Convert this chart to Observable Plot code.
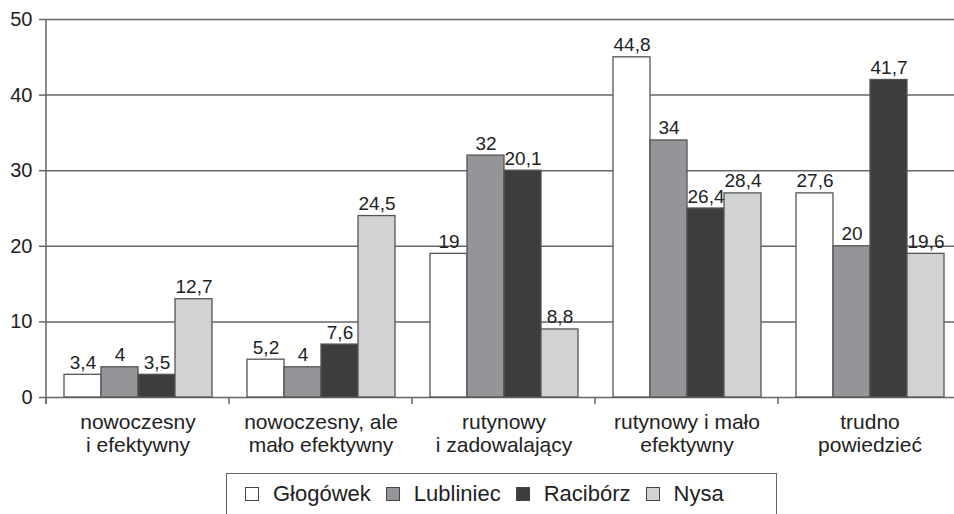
<!DOCTYPE html>
<html>
<head>
<meta charset="utf-8">
<script src="https://cdn.jsdelivr.net/npm/d3@7"></script>
<script src="https://cdn.jsdelivr.net/npm/@observablehq/plot@0.6"></script>
<style>
  body { margin: 0; background: #fff; font-family: "Liberation Sans", Arial, sans-serif; }
  #chart svg { display: block; overflow: visible; }
  #legend {
    box-sizing: border-box;
    margin-left: 226px; margin-top: 7px;
    width: 551px; height: 52px;
    border: 1.5px solid #666;
    display: flex; align-items: center; justify-content: flex-start;
    font-size: 22px; color: #222;
    padding-left: 18px;
    padding-bottom: 10px;
  }
  .item { display: flex; align-items: center; margin-right: 15px; }
  .sw { width: 14px; height: 14px; box-sizing: border-box; border: 1.3px solid #444; margin-right: 14px; }
</style>
</head>
<body>
<div id="chart"></div>
<div id="legend"></div>
<script>
const categories = [
  "nowoczesny\ni efektywny",
  "nowoczesny, ale\nmało efektywny",
  "rutynowy\ni zadowalający",
  "rutynowy i mało\nefektywny",
  "trudno\npowiedzieć"
];
const seriesNames = ["Głogówek", "Lubliniec", "Racibórz", "Nysa"];
// bar heights as drawn in the picture
const barsGlogowek  = [3, 5, 19, 45, 27];
const barsLubliniec = [4, 4, 32, 34, 20];
const barsRaciborz  = [3, 7, 30, 25, 42];
const barsNysa      = [13, 24, 9, 27, 19];
// value labels as printed
const labelsGlogowek  = ["3,4", "5,2", "19", "44,8", "27,6"];
const labelsLubliniec = ["4", "4", "32", "34", "20"];
const labelsRaciborz  = ["3,5", "7,6", "20,1", "26,4", "41,7"];
const labelsNysa      = ["12,7", "24,5", "8,8", "28,4", "19,6"];
const yTicks = [0, 10, 20, 30, 40, 50];
const seriesColors = ["#ffffff", "#939598", "#3d3d3d", "#d1d2d4"];

const barSets = [barsGlogowek, barsLubliniec, barsRaciborz, barsNysa];
const labelSets = [labelsGlogowek, labelsLubliniec, labelsRaciborz, labelsNysa];
const table = [];
categories.forEach((c, i) => {
  seriesNames.forEach((s, j) => {
    table.push({category: c, series: s, value: barSets[j][i], label: labelSets[j][i]});
  });
});

const plot = Plot.plot({
  width: 954,
  height: 466,
  marginLeft: 46,
  marginRight: 0,
  marginTop: 19,
  marginBottom: 69,
  style: {fontFamily: "'Liberation Sans', Arial, sans-serif", color: "#222", background: "#fff"},
  fx: {domain: categories, range: [46, 961], padding: 0, label: null},
  x: {domain: seriesNames, paddingInner: 0, paddingOuter: 0.44, axis: null},
  y: {domain: [0, 50], label: null},
  color: {domain: seriesNames, range: seriesColors},
  marks: [
    Plot.ruleY(yTicks, {stroke: "#666", strokeWidth: 1.5}),
    Plot.barY(table, {fx: "category", x: "series", y: "value", fill: "series", stroke: "#555", strokeWidth: 1.3, inset: 0}),
    Plot.text(table, {fx: "category", x: "series", y: "value", text: "label", lineAnchor: "bottom", dy: -6, fontSize: 19, fill: "#222"}),
    Plot.axisY({ticks: yTicks, tickSize: 7, tickPadding: 7, fontSize: 20, stroke: "#666", strokeWidth: 1.5, label: null}),
    Plot.axisFx({anchor: "bottom", tickSize: 0, tickPadding: 15, fontSize: 21, lineHeight: 1.1, label: null, fill: "#222"})
  ]
});

document.getElementById("chart").appendChild(plot);

// axis line and category boundary ticks, positioned from Plot's own scales
const fx = plot.scale("fx");
const y = plot.scale("y");
const svg = d3.select(plot);
const g = svg.append("g").attr("stroke", "#666").attr("stroke-width", 1.5);
const y0 = y.apply(0);
const yTop = y.apply(50);
const xStart = fx.range[0];
g.append("line").attr("x1", xStart).attr("x2", xStart).attr("y1", yTop).attr("y2", y0 + 7);
categories.forEach(c => {
  const xb = fx.apply(c);
  g.append("line").attr("x1", xb).attr("x2", xb).attr("y1", y0).attr("y2", y0 + 7);
});

// legend
const legend = d3.select("#legend");
seriesNames.forEach((s, i) => {
  const item = legend.append("div").attr("class", "item");
  item.append("div").attr("class", "sw").style("background", seriesColors[i]);
  item.append("span").text(s);
});
</script>
</body>
</html>
